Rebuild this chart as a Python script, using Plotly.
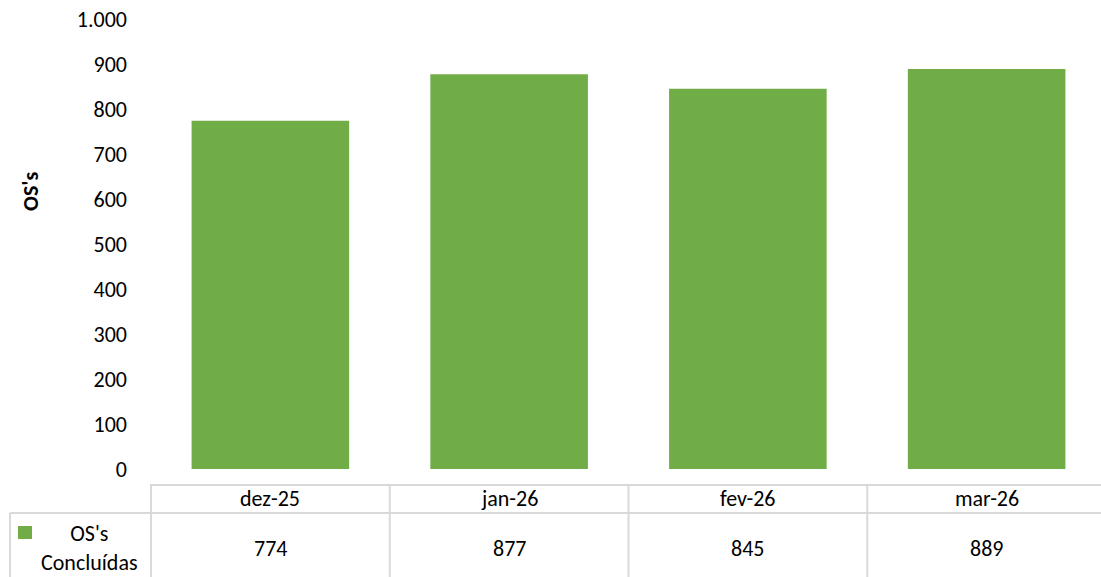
import plotly.graph_objects as go

categories = ["dez-25", "jan-26", "fev-26", "mar-26"]
values = [774, 877, 845, 889]
series_name = "OS's<br>Concluídas"
y_ticks = [0, 100, 200, 300, 400, 500, 600, 700, 800, 900, 1000]
y_tick_labels = ["0", "100", "200", "300", "400", "500", "600", "700", "800", "900", "1.000"]

BAR = "#70AD47"
GRID = "#D9D9D9"
FONT = "Carlito, Calibri, Lato, sans-serif"
FS = 22

W, H = 1106, 577
top_px, bottom_px, left_px = 19, 469, 150


def py(p):
    return (bottom_px - p) / (bottom_px - top_px)


def px_x(p):
    return (p - left_px) / (W - left_px)


fig = go.Figure()
fig.add_trace(go.Bar(x=categories, y=values, marker=dict(color=BAR, line=dict(width=0)),
                     showlegend=False, hoverinfo="x+y"))

shapes = []
ann = []
shapes.append(dict(type="line", xref="paper", yref="paper", x0=0, x1=1, y0=py(485), y1=py(485),
                   line=dict(color=GRID, width=2)))
shapes.append(dict(type="line", xref="paper", yref="paper", x0=px_x(10), x1=1, y0=py(513), y1=py(513),
                   line=dict(color=GRID, width=2)))
for i in range(len(categories)):
    shapes.append(dict(type="line", xref="x", yref="paper", x0=i - 0.5, x1=i - 0.5,
                       y0=py(485), y1=py(580), line=dict(color=GRID, width=2)))
shapes.append(dict(type="line", xref="paper", yref="paper", x0=px_x(10), x1=px_x(10),
                   y0=py(513), y1=py(580), line=dict(color=GRID, width=2)))
shapes.append(dict(type="rect", xref="paper", yref="paper", x0=px_x(18), x1=px_x(32),
                   y0=py(539), y1=py(526), fillcolor=BAR, line=dict(width=0)))

for c, v in zip(categories, values):
    ann.append(dict(x=c, y=py(498), xref="x", yref="paper", text=c, showarrow=False,
                    font=dict(family=FONT, size=FS, color="black"), yanchor="middle", xanchor="center"))
    ann.append(dict(x=c, y=py(548), xref="x", yref="paper", text=f"{v}", showarrow=False,
                    font=dict(family=FONT, size=FS, color="black"), yanchor="middle", xanchor="center"))

ann.append(dict(x=px_x(89), y=py(548), xref="paper", yref="paper", text=series_name, showarrow=False,
                font=dict(family=FONT, size=FS, color="black"), yanchor="middle", xanchor="center",
                align="center"))
ann.append(dict(x=px_x(30), y=py(192), xref="paper", yref="paper", text="<b>OS's</b>", showarrow=False,
                textangle=-90, font=dict(family=FONT, size=FS, color="black"), yanchor="middle",
                xanchor="center"))

fig.update_layout(
    width=W, height=H,
    margin=dict(l=left_px, r=0, t=top_px, b=H - bottom_px),
    plot_bgcolor="white", paper_bgcolor="white",
    bargap=0.34,
    shapes=shapes, annotations=ann,
    xaxis=dict(showticklabels=False, showgrid=False, zeroline=False, showline=False, ticks=""),
    yaxis=dict(range=[0, 1000], tickvals=y_ticks, ticktext=y_tick_labels, showgrid=False,
               zeroline=False, showline=False, ticks="", ticklabelstandoff=22,
               tickfont=dict(family=FONT, size=FS, color="black")),
    font=dict(family=FONT, size=FS, color="black"),
)

fig.write_html("out.html", config={"displayModeBar": False},
               post_script="document.body.style.margin='0';document.body.style.overflow='hidden';")
